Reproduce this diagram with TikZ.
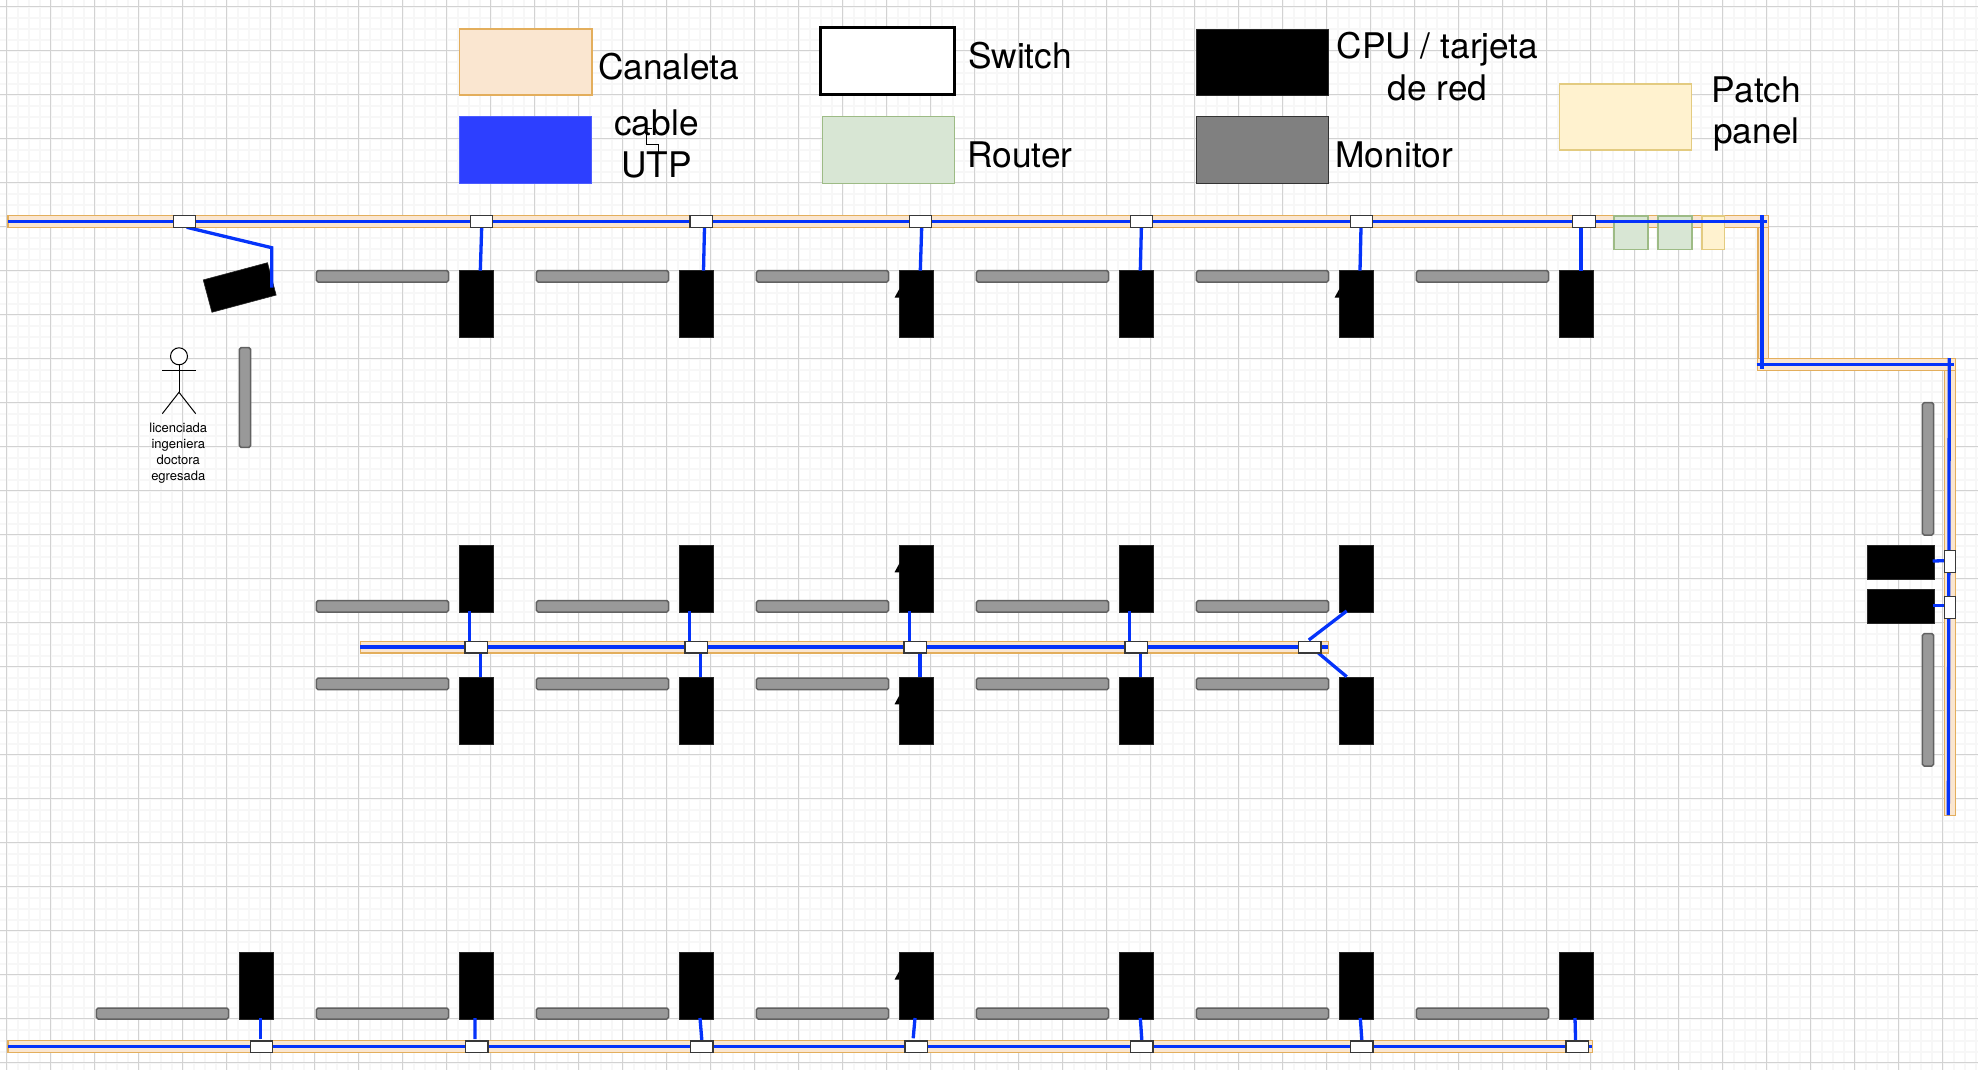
\documentclass[tikz,border=0pt]{standalone}
\usepackage{fontspec}
\setmainfont{TeX Gyre Heros}
\usetikzlibrary{calc}
\pgfdeclarelayer{front}
\pgfsetlayers{main,front}
\definecolor{gmajor}{HTML}{D2D2D2}
\definecolor{gminor}{HTML}{F7F7F7}
\definecolor{canfill}{HTML}{FAE6D0}
\definecolor{canline}{HTML}{E3AE5C}
\definecolor{blueline}{HTML}{0533FA}
\definecolor{bluefill}{HTML}{2D3FFF}
\definecolor{routerfill}{HTML}{D8E6D4}
\definecolor{routerline}{HTML}{9DBB85}
\definecolor{patchfill}{HTML}{FFF2CF}
\definecolor{patchline}{HTML}{E3CB80}
\tikzset{
  base box/.style={rectangle,inner sep=0pt,outer sep=0pt},
  canaleta/.style={base box,fill=canfill,draw=canline,line width=1.5pt},
  router/.style={base box,fill=routerfill,draw=routerline,line width=1.2pt},
  patch/.style={base box,fill=patchfill,draw=patchline,line width=1.2pt},
  cpu/.style={base box,fill=black,draw=black!85,line width=.6pt},
  monitor/.style={base box,fill=black!40,draw=black!62,line width=1.5pt,rounded corners=1.8pt},
  monitorkey/.style={base box,fill=black!50,draw=black!80,line width=1pt},
  switchbox/.style={base box,fill=white,draw=black!78,line width=1.3pt},
  switchkey/.style={base box,fill=white,draw=black,line width=3pt},
  utpkey/.style={base box,fill=bluefill,draw=bluefill!85!white,line width=1pt},
  cable/.style={draw=blueline,line width=3.3pt},
  big/.style={inner sep=0pt,outer sep=0pt,font=\fontsize{35.3}{42}\selectfont},
  small/.style={inner sep=0pt,outer sep=0pt,font=\fontsize{13}{15.8}\selectfont},
  person/.style={draw=black,line width=1pt},
}
\newcommand\bx[6]{\node[#1,minimum width={((#5)-(#3))*1pt},minimum height={((#6)-(#4))*1pt},at={({((#3)+(#5))/2},{((#4)+(#6))/2})}] (#2) {};}
\newcommand\wire[6]{\draw[cable] ([shift={(#2,#3)}]#1) -- ([shift={(#5,#6)}]#4);}
\newcommand\notch[1]{\fill[black] ([shift={(-4.5,27)}]#1.north west) -- ([shift={(.5,18)}]#1.north west) -- ([shift={(.5,27)}]#1.north west) -- cycle;}
\begin{document}
\begin{tikzpicture}[x=1pt,y=-1pt]
\useasboundingbox (0,0) rectangle (1978,1070);
\fill[white] (0,0) rectangle (1978,1070);
% grid
\foreach \k in {0,...,180} {
  \pgfmathsetmacro\gx{6.67+11*\k}
  \draw[gminor,line width=1.8pt] (\gx,0) -- (\gx,1070);
}
\foreach \k in {0,...,97} {
  \pgfmathsetmacro\gy{6.67+11*\k}
  \draw[gminor,line width=1.8pt] (0,\gy) -- (1978,\gy);
}
\foreach \k in {0,...,45} {
  \pgfmathsetmacro\gx{6.67+44*\k}
  \draw[gmajor,line width=1pt] (\gx,0) -- (\gx,1070);
}
\foreach \k in {0,...,24} {
  \pgfmathsetmacro\gy{6.67+44*\k}
  \draw[gmajor,line width=1pt] (0,\gy) -- (1978,\gy);
}
% legend
\bx{canaleta}{kCan}{459.6}{29}{591.8}{95}
\bx{utpkey}{kUtp}{459.6}{116.7}{591.8}{183.3}
\bx{switchkey}{kSw}{820.8}{27.7}{954.7}{94.7}
\bx{router}{kRou}{822.6}{116.7}{954.7}{183.3}
\bx{cpu}{kCpu}{1196}{29}{1328.6}{95}
\bx{monitorkey}{kMon}{1196}{116.7}{1328.6}{183.3}
\bx{patch}{kPat}{1559.4}{84}{1691.5}{150}
\node[big,anchor=base west] (tCan) at (598,79.5) {Canaleta};
\node[big,anchor=base west] (tSw) at (968,68.7) {Switch};
\node[big,anchor=base west] (tRou) at (967.5,167.7) {Router};
\node[big,anchor=base west] (tMon) at (1335.5,167.7) {Monitor};
\node[big,anchor=base,align=center] (tUtp) at (656.5,177.4) {cable\\UTP};
\node[big,anchor=base,align=center] (tCpu) at (1437.5,100.3) {CPU / tarjeta\\de red};
\node[big,anchor=base,align=center] (tPat) at (1756.5,144) {Patch\\panel};
\draw[black,line width=.7pt] (652,128) -- (646,128) -- (646,144) -- (658,144) -- (658,153);
% canaletas
\bx{canaleta}{canA}{1757.8}{216}{1768.3}{370.7}
\bx{canaleta}{canC}{1944.3}{359}{1955.7}{815.7}
\bx{canaleta}{canB}{1757.3}{358.7}{1955.7}{370.7}
\bx{canaleta}{canT}{8}{215.7}{1768.3}{227.3}
\bx{canaleta}{canM}{360.3}{641.3}{1328.7}{653}
\bx{canaleta}{canS}{8}{1040.7}{1592.7}{1052.3}
\bx{router}{r1}{1614}{216}{1648}{249.3}
\bx{router}{r2}{1658}{216}{1692}{249.3}
\bx{patch}{p1}{1702}{216}{1724.5}{249.3}
% main cable runs
\wire{canT.west}{0}{-.2}{canT.east}{-1}{-.2}
\wire{canA.north}{-1.1}{-1}{canA.south}{-1.1}{-1.5}
\wire{canB.west}{-.6}{-.5}{canB.east}{-1.4}{-.5}
\wire{canC.north}{-.7}{-1}{canC.south}{-1.7}{-.7}
\wire{canM.west}{0}{-.3}{canM.east}{-.7}{-.3}
\wire{canS.west}{0}{-.3}{canS.east}{-.7}{-.3}
% monitors
\foreach \n/\x in {1/316.3,2/536.3,3/756.3,4/976.3,5/1196.3,6/1416.3} {
  \bx{monitor}{mT\n}{\x}{270.7}{\x+132.4}{282}
}
\foreach \n/\x in {1/316.3,2/536.3,3/756.3,4/976.3,5/1196.3} {
  \bx{monitor}{mU\n}{\x}{600.7}{\x+132.4}{612}
  \bx{monitor}{mL\n}{\x}{678}{\x+132.4}{689.7}
}
\foreach \n/\x in {0/96.3,1/316.3,2/536.3,3/756.3,4/976.3,5/1196.3,6/1416.3} {
  \bx{monitor}{mB\n}{\x}{1008}{\x+132.4}{1019}
}
\bx{monitor}{mV}{239.3}{347.7}{250.7}{447.3}
\bx{monitor}{mR1}{1922.3}{402.7}{1933.7}{535}
\bx{monitor}{mR2}{1922.3}{633.7}{1933.7}{766}
% CPUs
\foreach \n/\x in {1/459,2/679,3/899,4/1119,5/1339,6/1559} {
  \bx{cpu}{cT\n}{\x}{270.7}{\x+34}{337.3}
}
\foreach \n/\x in {1/459,2/679,3/899,4/1119,5/1339} {
  \bx{cpu}{cU\n}{\x}{545.3}{\x+34}{612}
  \bx{cpu}{cL\n}{\x}{677.3}{\x+34}{744}
}
\foreach \n/\x in {0/239,1/459,2/679,3/899,4/1119,5/1339,6/1559} {
  \bx{cpu}{cB\n}{\x}{952.7}{\x+34}{1019.3}
}
\node[cpu,minimum width=66.5pt,minimum height=33.5pt,rotate=15] (cV) at (239.7,287.5) {};
\bx{cpu}{cR1}{1867}{545.7}{1934}{579.3}
\bx{cpu}{cR2}{1867}{589.7}{1934}{623.3}
\notch{cT3}\notch{cT5}\notch{cU3}\notch{cL3}\notch{cB3}
% switches
\begin{pgfonlayer}{front}
\foreach \n/\x in {0/173.3,1/470.3,2/690,3/909.3,4/1130.2,5/1350.3,6/1572.8} {
  \bx{switchbox}{sT\n}{\x}{215.7}{\x+22.4}{227.3}
}
\foreach \n/\x in {1/465,2/685,3/904,4/1125,5/1298.7} {
  \bx{switchbox}{sM\n}{\x}{641.7}{\x+22.4}{653}
}
\foreach \n/\x in {0/250.3,1/465.7,2/690.7,3/905,4/1130.7,5/1350.7,6/1566} {
  \bx{switchbox}{sB\n}{\x}{1041}{\x+22.4}{1052.3}
}
\bx{switchbox}{sR1}{1944.3}{550.3}{1955.7}{572.3}
\bx{switchbox}{sR2}{1944.3}{596.3}{1955.7}{618.7}
\end{pgfonlayer}
% top row drops
\draw[cable] (sT0.south) ++(2.2,0) -- (271.7,247.7) coordinate (bendV) -- (bendV |- cV.center);
\wire{sT1.south}{.2}{0}{cT1.north}{4.3}{0}
\wire{sT2.south}{3.3}{0}{cT2.north}{7.5}{0}
\wire{sT3.south}{1.2}{0}{cT3.north}{4.3}{0}
\wire{sT4.south}{0}{0}{cT4.north}{4.3}{0}
\wire{sT5.south}{-.5}{0}{cT5.north}{4}{0}
\wire{sT6.south}{-3}{0}{cT6.north}{5}{0}
% middle row drops
\wire{cU1.south}{-6.7}{-1}{sM1.north}{-6.9}{0}
\wire{cU2.south}{-6.7}{-1}{sM2.north}{-6.9}{0}
\wire{cU3.south}{-6.7}{-1}{sM3.north}{-5.9}{0}
\wire{cU4.south}{-6.7}{-1}{sM4.north}{-6.9}{0}
\wire{sM1.south}{4.1}{0}{cL1.north}{4.3}{0}
\wire{sM2.south}{4.1}{0}{cL2.north}{4.3}{0}
\wire{sM3.south}{4.8}{0}{cL3.north}{4}{0}
\wire{sM4.south}{4.5}{0}{cL4.north}{4.7}{0}
\wire{sM5.north}{-1.1}{-1.7}{cU5.south}{-9.3}{-1}
\wire{sM5.south}{8.45}{0}{cL5.north}{-9.3}{-.6}
% bottom row drops
\wire{cB0.south}{4.7}{-1.3}{sB0.north}{-.8}{-2}
\wire{cB1.south}{-1}{-1.3}{sB1.north}{-2}{-2}
\wire{cB2.south}{4}{-1.3}{sB2.north}{0}{0}
\wire{cB3.south}{-1}{-1.3}{sB3.north}{-3}{-2.7}
\wire{cB4.south}{4.3}{-1.3}{sB4.north}{0}{0}
\wire{cB5.south}{4.3}{-1.3}{sB5.north}{0}{0}
\wire{cB6.south}{-1}{-1.3}{sB6.north}{-1.6}{0}
% right side
\wire{cR1.east}{-1.3}{-1.5}{sR1.west}{0}{-.6}
\wire{cR2.east}{-1.3}{-.8}{sR2.west}{0}{-1.8}
% person
\node[circle,draw=black,line width=1pt,fill=white,minimum size=17pt,inner sep=0pt,outer sep=0pt] (head) at (179,356.3) {};
\coordinate (hip) at (179,392.3);
\coordinate (armL) at (162.3,370);
\coordinate (armR) at (195.7,370);
\coordinate (footL) at (162.3,413.7);
\coordinate (footR) at (195.7,413.7);
\draw[person] (head.south) -- (hip);
\draw[person] (armL) -- (armR);
\draw[person] (footL) -- (hip) -- (footR);
\node[small,anchor=base,align=center] (who) at (178.3,480) {licenciada\\ingeniera\\doctora\\egresada};
\end{tikzpicture}
\end{document}
